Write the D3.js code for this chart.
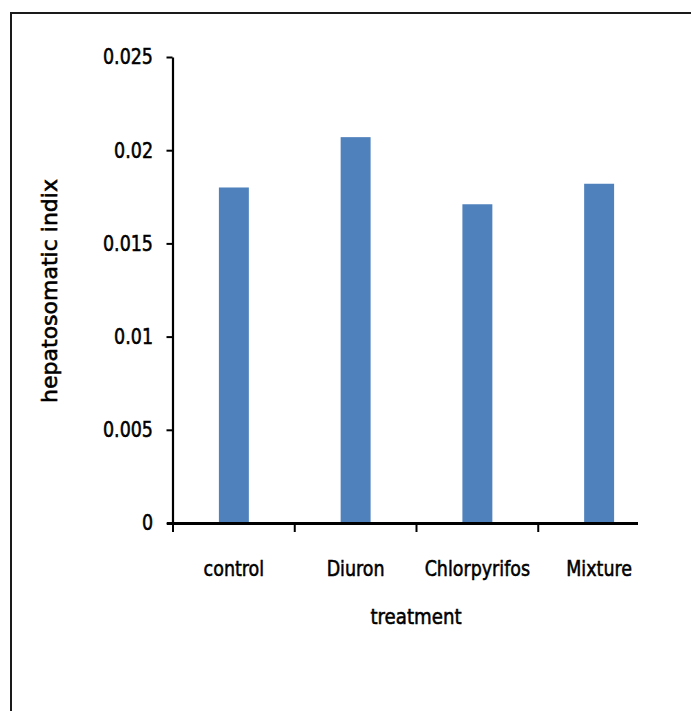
<!DOCTYPE html>
<html>
<head>
<meta charset="utf-8">
<script src="https://cdn.jsdelivr.net/npm/d3@7"></script>
<style>
  html, body { margin: 0; padding: 0; background: #fff; }
  svg { display: block; }
  text { font-family: "DejaVu Sans", sans-serif; fill: #000; }
</style>
</head>
<body>
<svg id="chart" width="691" height="711"></svg>
<script>
const categories = ["control", "Diuron", "Chlorpyrifos", "Mixture"];
const values = [0.0180, 0.0207, 0.0171, 0.0182];
const yTicks = [0, 0.005, 0.01, 0.015, 0.02, 0.025];
const yTickLabels = ["0", "0.005", "0.01", "0.015", "0.02", "0.025"];
const xTitle = "treatment";
const yTitle = "hepatosomatic indix";

const FS = 22, SX = 0.795;
const svg = d3.select("#chart");

// frame (top and left edges visible)
svg.append("line").attr("x1", 10).attr("x2", 691).attr("y1", 13).attr("y2", 13)
  .attr("stroke", "#1a1a1a").attr("stroke-width", 2);
svg.append("line").attr("x1", 11).attr("x2", 11).attr("y1", 12).attr("y2", 711)
  .attr("stroke", "#1a1a1a").attr("stroke-width", 2);

const x = d3.scaleBand().domain(categories).range([173, 660])
  .paddingInner(0.754).paddingOuter(0.377);
const y = d3.scaleLinear().domain([0, 0.025]).range([523, 57]);

// bars
svg.append("g").selectAll("rect").data(values).join("rect")
  .attr("x", (d, i) => x(categories[i]))
  .attr("width", x.bandwidth())
  .attr("y", d => y(d))
  .attr("height", d => y(0) - y(d))
  .attr("fill", "#4F81BD");

// y axis (lines via d3 axis, labels drawn condensed)
const yAxis = svg.append("g").attr("transform", "translate(172.5,0)")
  .call(d3.axisLeft(y).tickValues(yTicks).tickSize(6).tickSizeOuter(0).tickFormat(""));
yAxis.select(".domain").attr("stroke", "#000").attr("stroke-width", 2.2);
yAxis.selectAll(".tick line").attr("stroke", "#000").attr("stroke-width", 2);

const textAttrs = sel => sel.attr("font-size", FS).attr("stroke", "#000").attr("stroke-width", 0.6);

svg.append("g").selectAll("text").data(yTicks).join("text")
  .attr("transform", d => `translate(153,${y(d)}) scale(${SX},1)`)
  .attr("dy", "0.34em")
  .attr("text-anchor", "end")
  .call(textAttrs)
  .text((d, i) => yTickLabels[i]);

// x axis (line ends short of the last band, as in the reference)
const x0 = x.range()[0];
const step = x.step();
svg.append("line").attr("x1", x0 - 6).attr("x2", 638).attr("y1", y(0) + 0.5).attr("y2", y(0) + 0.5)
  .attr("stroke", "#000").attr("stroke-width", 3);
svg.append("g").selectAll("line").data(categories).join("line")
  .attr("x1", (d, i) => x0 + i * step).attr("x2", (d, i) => x0 + i * step)
  .attr("y1", y(0)).attr("y2", y(0) + 9)
  .attr("stroke", "#000").attr("stroke-width", 2);
svg.append("g").selectAll("text").data(categories).join("text")
  .attr("transform", d => `translate(${x(d) + x.bandwidth() / 2},576) scale(${SX},1)`)
  .attr("text-anchor", "middle")
  .call(textAttrs)
  .text(d => d);

// titles
svg.append("text").attr("transform", `translate(416,624) scale(${SX * 1.04},1)`)
  .attr("text-anchor", "middle").call(textAttrs).text(xTitle);
svg.append("text").attr("transform", "translate(57,291) rotate(-90)")
  .attr("text-anchor", "middle").call(textAttrs).text(yTitle);
</script>
</body>
</html>
